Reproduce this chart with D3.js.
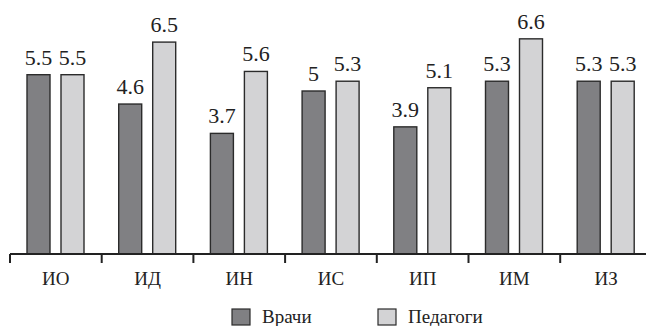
<!DOCTYPE html>
<html>
<head>
<meta charset="utf-8">
<script src="https://cdn.jsdelivr.net/npm/d3@7"></script>
<style>
  html, body { margin: 0; padding: 0; background: #fff; }
  svg { display: block; }
  svg text { font-family: "Liberation Serif", "Times New Roman", Times, "DejaVu Serif", serif; }
</style>
</head>
<body>
<svg id="chart" width="646" height="326"></svg>
<script>
const categories = ["ИО", "ИД", "ИН", "ИС", "ИП", "ИМ", "ИЗ"];
const seriesNames = ["Врачи", "Педагоги"];
const doctors = [5.5, 4.6, 3.7, 5, 3.9, 5.3, 5.3];
const teachers = [5.5, 6.5, 5.6, 5.3, 5.1, 6.6, 5.3];
const valueLabels = [
  ["5.5", "4.6", "3.7", "5", "3.9", "5.3", "5.3"],
  ["5.5", "6.5", "5.6", "5.3", "5.1", "6.6", "5.3"]
];
const colors = ["#808083", "#d3d3d5"];
const fontFamily = "'Liberation Serif', 'Times New Roman', Times, serif";

const svg = d3.select("#chart");
const baseY = 254;

const x = d3.scaleBand().domain(categories).range([10, 10 + 7 * 91.7]).padding(0);
const xInner = d3.scaleBand().domain(seriesNames).range([17, 74]).paddingInner(0.3235);
const y = d3.scaleLinear().domain([0, 6.6]).range([baseY, baseY - 6.6 * 32.6]);

const seriesValues = [doctors, teachers];

// bars and value labels
seriesNames.forEach((s, si) => {
  const g = svg.append("g");
  g.selectAll("rect")
    .data(categories)
    .join("rect")
    .attr("x", c => x(c) + xInner(s))
    .attr("y", (c, i) => y(seriesValues[si][i]))
    .attr("width", xInner.bandwidth())
    .attr("height", (c, i) => y(0) - y(seriesValues[si][i]))
    .attr("fill", colors[si])
    .attr("stroke", "#2b2b2b")
    .attr("stroke-width", 1.4);
  g.selectAll("text")
    .data(categories)
    .join("text")
    .attr("x", c => x(c) + xInner(s) + xInner.bandwidth() / 2)
    .attr("y", (c, i) => y(seriesValues[si][i]) - 10)
    .attr("text-anchor", "middle")
    .attr("font-family", fontFamily)
    .attr("font-size", 22)
    .attr("fill", "#222")
    .text((c, i) => valueLabels[si][i]);
});

// x axis line with ticks at group boundaries
svg.append("line")
  .attr("x1", 10).attr("x2", 646)
  .attr("y1", baseY).attr("y2", baseY)
  .attr("stroke", "#222").attr("stroke-width", 2);
svg.append("g").selectAll("line")
  .data(categories)
  .join("line")
  .attr("x1", c => x(c)).attr("x2", c => x(c))
  .attr("y1", baseY).attr("y2", baseY + 9)
  .attr("stroke", "#222").attr("stroke-width", 2);

// category labels
svg.append("g").selectAll("text")
  .data(categories)
  .join("text")
  .attr("x", c => x(c) + x.bandwidth() / 2)
  .attr("y", 285)
  .attr("text-anchor", "middle")
  .attr("font-family", fontFamily)
  .attr("font-size", 19)
  .attr("fill", "#222")
  .text(c => c);

// legend
const legendX = [232, 378];
const legend = svg.append("g");
seriesNames.forEach((s, i) => {
  legend.append("rect")
    .attr("x", legendX[i]).attr("y", 309)
    .attr("width", 18).attr("height", 16)
    .attr("fill", colors[i])
    .attr("stroke", "#2b2b2b").attr("stroke-width", 1.2);
  legend.append("text")
    .attr("x", legendX[i] + 30).attr("y", 323)
    .attr("font-family", fontFamily)
    .attr("font-size", 19)
    .attr("fill", "#222")
    .text(s);
});
</script>
</body>
</html>
